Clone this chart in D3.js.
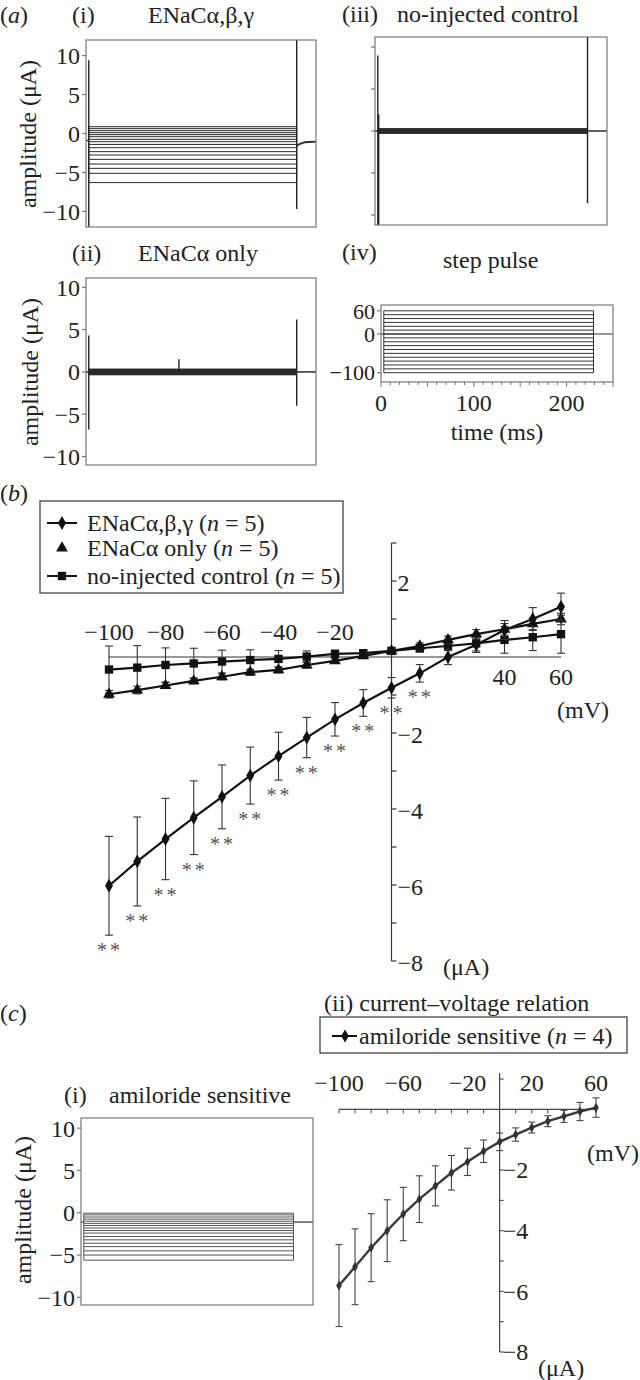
<!DOCTYPE html>
<html><head><meta charset="utf-8">
<script src="https://cdn.jsdelivr.net/npm/d3@7"></script>
<style>
body{margin:0;background:#fff;}
</style></head>
<body><svg id="fig" width="640" height="1380" font-family="'Liberation Serif', 'DejaVu Serif', serif"></svg>
<script>
// ---------- data ----------
const voltages = [-100,-90,-80,-70,-60,-50,-40,-30,-20,-10,0,10,20,30,40,50,60];
const enacABG    = [-6.02,-5.38,-4.79,-4.23,-3.68,-3.12,-2.61,-2.12,-1.64,-1.21,-0.81,-0.43,0.0,0.32,0.71,1.0,1.32];
const enacABGErr = [1.3,1.17,1.07,0.97,0.84,0.75,0.63,0.53,0.44,0.35,0.27,0.23,0.2,0.2,0.25,0.3,0.36];
const enacA      = [-0.98,-0.87,-0.75,-0.63,-0.52,-0.4,-0.34,-0.21,-0.1,0.03,0.16,0.29,0.45,0.6,0.73,0.87,1.0];
const enacAErr   = [0.1,0.1,0.08,0.08,0.08,0.08,0.08,0.08,0.07,0.07,0.07,0.08,0.1,0.12,0.15,0.15,0.15];
const control    = [-0.33,-0.28,-0.21,-0.17,-0.12,-0.08,-0.05,0.01,0.08,0.1,0.16,0.23,0.29,0.36,0.45,0.52,0.6];
const controlErr = [0.62,0.58,0.45,0.4,0.3,0.27,0.22,0.15,0.1,0.08,0.08,0.1,0.12,0.2,0.35,0.35,0.5];
const sigVoltages = [-100,-90,-80,-70,-60,-50,-40,-30,-20,-10,0,10];
const amiloride    = [-5.81,-5.19,-4.56,-4.0,-3.45,-2.96,-2.52,-2.09,-1.73,-1.38,-1.07,-0.83,-0.6,-0.39,-0.23,-0.07,0.06];
const amilorideErr = [1.35,1.25,1.12,1.02,0.88,0.77,0.66,0.57,0.45,0.37,0.29,0.22,0.18,0.18,0.2,0.3,0.32];

// raw traces (µA levels during the step, spikes, holding current)
const abgLevels = [0.87,0.62,0.36,0.1,-0.15,-0.41,-0.75,-1.05,-1.4,-1.82,-2.33,-2.76,-3.32,-3.92,-4.47,-5.11,-6.3];
const abgSpikes = [{t:3,hi:9.4,lo:-12},{t:229,hi:12,lo:-9.7}];
const abgTail   = [{t:229,v:-1.6},{t:232,v:-1.35},{t:238,v:-1.12},{t:250,v:-1.05}];
const abgHold   = -0.9;
const aOnlySpikes = [{t:3,hi:4.3,lo:-6.8},{t:101,hi:1.5,lo:0},{t:229,hi:6.2,lo:-4.0}];
const ctrlSpikes  = [{t:3,hi:9.0,lo:-11.2},{t:4,hi:2,lo:-11.2},{t:229,hi:11.2,lo:-8.6}];
const amilLevels = [-5.6,-5.0,-4.5,-4.0,-3.6,-3.2,-2.8,-2.4,-2.1,-1.8,-1.5,-1.25,-1.0,-0.75,-0.5,-0.25,-0.05];
const amilHold = -1.1;
const pulseStart = 3, pulseEnd = 229;
const ampTicks = [10,5,0,-5,-10];
const stepTicks = [60,0,-100];
const timeTicks = [0,100,200];
const timeMinor = d3.range(0,251,10);
const ivYTicksB = [-8,-7,-6,-5,-4,-3,-2,-1,1,2,3];
const ivYLabelsB = [2,-2,-4,-6,-8];
const ivXLabelsBTop = [-100,-80,-60,-40,-20];
const ivXLabelsBBottom = [40,60];
const ivYTicksC = [-8,-7,-6,-5,-4,-3,-2,-1,1];
const ivYLabelsC = [-2,-4,-6,-8];
const ivXLabelsC = [-100,-60,-20,20,60];

const svg = d3.select("#fig");
const FONT = "'Liberation Serif', 'DejaVu Serif', serif";
const FS = 24;
const minus = s => String(s).replace("-", "\u2212");

function text(x, y, str, opts={}) {
  const t = svg.append("text").attr("x", x).attr("y", y).attr("dy", "0.35em")
    .attr("font-family", FONT).attr("fill", opts.fill || "#222")
    .attr("font-size", opts.fs || FS).attr("text-anchor", opts.anchor || "start");
  if (opts.rotate) t.attr("transform", `rotate(-90,${x},${y})`);
  if (opts.ls) t.attr("letter-spacing", opts.ls);
  return t.text(str);
}
function richText(x, y, parts, opts={}) {
  const t = svg.append("text").attr("x", x).attr("y", y).attr("dy", "0.35em")
    .attr("font-family", FONT).attr("fill", "#222")
    .attr("font-size", opts.fs || FS).attr("text-anchor", opts.anchor || "start");
  parts.forEach(p => {
    const s = t.append("tspan").text(p.t);
    if (p.i) s.attr("font-style", "italic");
  });
  return t;
}

// ---------- trace panels ----------
function tracePanel(o) {
  const x = d3.scaleLinear().domain([0,250]).range([o.x0, o.x1]);
  const y = d3.scaleLinear().domain(o.yDom).range([o.y1, o.y0]);
  const g = svg.append("g");
  const col = o.col || "#2a2a2a";
  const hold = o.hold;
  g.append("line").attr("x1", x(0)).attr("x2", x(pulseStart)).attr("y1", y(hold)).attr("y2", y(hold))
    .attr("stroke", col).attr("stroke-width", 1.5);
  if (o.tail) {
    g.append("path").datum(o.tail).attr("fill","none").attr("stroke",col).attr("stroke-width",1.8)
      .attr("d", d3.line().x(d=>x(d.t)).y(d=>y(d.v)));
  } else {
    g.append("line").attr("x1", x(pulseEnd)).attr("x2", x(250)).attr("y1", y(hold)).attr("y2", y(hold))
      .attr("stroke", col).attr("stroke-width", 1.5);
  }
  if (o.levels) {
    g.selectAll(null).data(o.levels).enter().append("line")
      .attr("x1", x(pulseStart)).attr("x2", x(pulseEnd))
      .attr("y1", d=>y(d)).attr("y2", d=>y(d))
      .attr("stroke", col).attr("stroke-width", 1);
    const ext = d3.extent(o.levels);
    g.append("line").attr("x1", x(pulseStart)).attr("x2", x(pulseStart)).attr("y1", y(ext[0])).attr("y2", y(ext[1]))
      .attr("stroke", col).attr("stroke-width", 1);
    g.append("line").attr("x1", x(pulseEnd)).attr("x2", x(pulseEnd)).attr("y1", y(ext[0])).attr("y2", y(ext[1]))
      .attr("stroke", col).attr("stroke-width", 1);
  }
  if (o.band) {
    g.append("rect").attr("x", x(pulseStart)).attr("width", x(pulseEnd)-x(pulseStart))
      .attr("y", y(o.band)).attr("height", y(-o.band)-y(o.band)).attr("fill", "#2a2a2a");
  }
  if (o.spikes) {
    g.selectAll(null).data(o.spikes).enter().append("line")
      .attr("x1", d=>x(d.t)).attr("x2", d=>x(d.t)).attr("y1", d=>y(d.hi)).attr("y2", d=>y(d.lo))
      .attr("stroke", "#222").attr("stroke-width", 1.4);
  }
  svg.append("rect").attr("x", o.x0).attr("y", o.y0).attr("width", o.x1-o.x0).attr("height", o.y1-o.y0)
    .attr("fill","none").attr("stroke","#777").attr("stroke-width",1.2);
  (o.yTicks||[]).forEach(v => {
    svg.append("line").attr("x1", o.x0-4).attr("x2", o.x0).attr("y1", y(v)).attr("y2", y(v))
      .attr("stroke","#777").attr("stroke-width",1.2);
    if (o.yLabels) text(o.x0-6, y(v), minus(v), {anchor:"end"});
  });
  return {x, y};
}

tracePanel({x0:86,x1:316,y0:40,y1:227,yDom:[-12,12],levels:abgLevels,spikes:abgSpikes,hold:abgHold,tail:abgTail,yTicks:ampTicks,yLabels:true});
tracePanel({x0:375,x1:607,y0:37,y1:225,yDom:[-11.2,11.2],band:0.35,spikes:ctrlSpikes,hold:0,yTicks:ampTicks,yLabels:false});
tracePanel({x0:86,x1:316,y0:278,y1:465,yDom:[-11,11.1],band:0.4,spikes:aOnlySpikes,hold:0,yTicks:ampTicks,yLabels:true});
tracePanel({x0:81,x1:313,y0:1118,y1:1305,yDom:[-10.9,11.2],levels:amilLevels,hold:amilHold,yTicks:ampTicks,yLabels:true,col:"#555"});

// (a)(iv) step pulse
(function(){
  const x0=381,x1=613,y0=305,y1=382;
  const x = d3.scaleLinear().domain([0,250]).range([x0,x1]);
  const y = d3.scaleLinear().domain([-124,75]).range([y1,y0]);
  svg.append("line").attr("x1",x(0)).attr("x2",x(250)).attr("y1",y(0)).attr("y2",y(0)).attr("stroke","#333").attr("stroke-width",1.2);
  svg.selectAll(null).data(voltages).enter().append("line")
    .attr("x1",x(pulseStart)).attr("x2",x(pulseEnd)).attr("y1",d=>y(d)).attr("y2",d=>y(d))
    .attr("stroke","#333").attr("stroke-width",1);
  [pulseStart,pulseEnd].forEach(t=>svg.append("line").attr("x1",x(t)).attr("x2",x(t))
    .attr("y1",y(-100)).attr("y2",y(60)).attr("stroke","#333").attr("stroke-width",1));
  svg.append("rect").attr("x",x0).attr("y",y0).attr("width",x1-x0).attr("height",y1-y0)
    .attr("fill","none").attr("stroke","#777").attr("stroke-width",1.2);
  stepTicks.forEach(v=>{
    svg.append("line").attr("x1",x0-4).attr("x2",x0).attr("y1",y(v)).attr("y2",y(v)).attr("stroke","#777").attr("stroke-width",1.2);
    text(x0-6,y(v),minus(v),{anchor:"end",fs:22});
  });
  timeMinor.forEach(t=>svg.append("line").attr("x1",x(t)).attr("x2",x(t)).attr("y1",y1).attr("y2",y1+(t%50===0?5:3))
    .attr("stroke","#777").attr("stroke-width",1));
  timeTicks.forEach(t=>text(x(t),403,t,{anchor:"middle"}));
  text(497,432,"time (ms)",{anchor:"middle"});
})();

richText(0,15,[{t:"("},{t:"a",i:true},{t:")"}]);
text(72,15,"(i)");
text(201,15,"ENaCα,β,γ",{anchor:"middle"});
text(342,14,"(iii)");
text(397,14,"no-injected control");
text(72,253,"(ii)");
text(138,253,"ENaCα only");
text(342,252,"(iv)");
text(443,260,"step pulse");
text(28,134,"amplitude (μA)",{anchor:"middle",rotate:true});
text(30,372,"amplitude (μA)",{anchor:"middle",rotate:true});
text(23,1210,"amplitude (μA)",{anchor:"middle",rotate:true});

// ---------- (b) I-V ----------
(function(){
  const x = d3.scaleLinear().domain([-100,60]).range([109,561]);
  const y = d3.scaleLinear().domain([-8,3]).range([961,543]);
  const ax = x(0);
  svg.append("line").attr("x1",x(-100)).attr("x2",x(60)).attr("y1",y(0)).attr("y2",y(0)).attr("stroke","#333").attr("stroke-width",1.2);
  svg.append("line").attr("x1",ax).attr("x2",ax).attr("y1",y(3)).attr("y2",y(-8)).attr("stroke","#333").attr("stroke-width",1.2);
  ivYTicksB.forEach(v=>svg.append("line").attr("x1",ax).attr("x2",ax+5).attr("y1",y(v)).attr("y2",y(v)).attr("stroke","#333").attr("stroke-width",1.2));
  ivYLabelsB.forEach(v=>text(ax+6,y(v)+2,minus(v)));
  ivXLabelsBTop.forEach(v=>text(x(v),632,minus(v),{anchor:"middle"}));
  ivXLabelsBBottom.forEach(v=>text(x(v),677,v,{anchor:"middle"}));
  text(557,710,"(mV)");
  text(443,967,"(μA)");

  const series = [
    {vals:control, err:controlErr, sym:d3.symbolSquare, size:70},
    {vals:enacA, err:enacAErr, sym:d3.symbolTriangle, size:60},
    {vals:enacABG, err:enacABGErr, sym:d3.symbolDiamond, size:55}
  ];
  series.forEach(s=>{
    const pts = voltages.map((v,i)=>({v, m:s.vals[i], e:s.err[i]}));
    const g = svg.append("g");
    pts.forEach(p=>{
      g.append("line").attr("x1",x(p.v)).attr("x2",x(p.v)).attr("y1",y(p.m+p.e)).attr("y2",y(p.m-p.e)).attr("stroke","#333").attr("stroke-width",1.1);
      [p.m+p.e,p.m-p.e].forEach(c=>g.append("line").attr("x1",x(p.v)-4).attr("x2",x(p.v)+4).attr("y1",y(c)).attr("y2",y(c)).attr("stroke","#333").attr("stroke-width",1.1));
    });
    g.append("path").datum(pts).attr("fill","none").attr("stroke","#111").attr("stroke-width",2.2)
      .attr("d",d3.line().x(d=>x(d.v)).y(d=>y(d.m)));
    g.selectAll(null).data(pts).enter().append("path")
      .attr("transform",d=>`translate(${x(d.v)},${y(d.m)})`)
      .attr("d",d3.symbol().type(s.sym).size(s.size)).attr("fill","#111");
  });
  sigVoltages.forEach(v=>{
    const i = voltages.indexOf(v);
    const yb = y(enacABG[i]-enacABGErr[i]) + 15;
    text(x(v)+1, yb, "**", {anchor:"middle", fs:20, fill:"#555", ls:3});
  });

  svg.append("rect").attr("x",40).attr("y",501).attr("width",303).attr("height",92).attr("fill","#fff").attr("stroke","#333").attr("stroke-width",1.2);
  const leg = [
    {y:523, sym:d3.symbolDiamond, size:55, line:true, parts:[{t:"ENaCα,β,γ ("},{t:"n",i:true},{t:" = 5)"}]},
    {y:548, sym:d3.symbolTriangle, size:60, line:false, parts:[{t:"ENaCα only ("},{t:"n",i:true},{t:" = 5)"}]},
    {y:576, sym:d3.symbolSquare, size:70, line:true, parts:[{t:"no-injected control ("},{t:"n",i:true},{t:" = 5)"}]}
  ];
  leg.forEach(l=>{
    if (l.line) svg.append("line").attr("x1",47).attr("x2",77).attr("y1",l.y).attr("y2",l.y).attr("stroke","#111").attr("stroke-width",2);
    svg.append("path").attr("transform",`translate(62,${l.y})`).attr("d",d3.symbol().type(l.sym).size(l.size)).attr("fill","#111");
    richText(87,l.y,l.parts);
  });
  richText(0,493,[{t:"("},{t:"b",i:true},{t:")"}]);
})();

// ---------- (c)(ii) I-V ----------
(function(){
  const x = d3.scaleLinear().domain([-100,60]).range([339,596]);
  const y = d3.scaleLinear().domain([-8,1.2]).range([1352,1073]);
  const ax = x(0);
  svg.append("line").attr("x1",x(-100)).attr("x2",x(60)).attr("y1",y(0)).attr("y2",y(0)).attr("stroke","#444").attr("stroke-width",1.2);
  voltages.forEach(v=>{ if (v!==0) svg.append("line").attr("x1",x(v)).attr("x2",x(v)).attr("y1",y(0)).attr("y2",y(0)+4).attr("stroke","#444").attr("stroke-width",1); });
  svg.append("line").attr("x1",ax).attr("x2",ax).attr("y1",y(1.2)).attr("y2",y(-8)).attr("stroke","#444").attr("stroke-width",1.2);
  ivYTicksC.forEach(v=>svg.append("line").attr("x1",ax).attr("x2",ax+4).attr("y1",y(v)).attr("y2",y(v)).attr("stroke","#444").attr("stroke-width",1.1));
  ivYLabelsC.forEach(v=>text(ax+3,y(v),minus(v)));
  ivXLabelsC.forEach(v=>text(x(v),1083,minus(v),{anchor:"middle"}));
  text(587,1153,"(mV)");
  text(538,1368,"(μA)");
  const pts = voltages.map((v,i)=>({v, m:amiloride[i], e:amilorideErr[i]}));
  pts.forEach(p=>{
    svg.append("line").attr("x1",x(p.v)).attr("x2",x(p.v)).attr("y1",y(p.m+p.e)).attr("y2",y(p.m-p.e)).attr("stroke","#444").attr("stroke-width",1.1);
    [p.m+p.e,p.m-p.e].forEach(c=>svg.append("line").attr("x1",x(p.v)-3.5).attr("x2",x(p.v)+3.5).attr("y1",y(c)).attr("y2",y(c)).attr("stroke","#444").attr("stroke-width",1.1));
  });
  svg.append("path").datum(pts).attr("fill","none").attr("stroke","#3a3a3a").attr("stroke-width",2.4)
    .attr("d",d3.line().x(d=>x(d.v)).y(d=>y(d.m)));
  svg.selectAll(null).data(pts).enter().append("path")
    .attr("transform",d=>`translate(${x(d.v)},${y(d.m)})`)
    .attr("d",d3.symbol().type(d3.symbolDiamond).size(28)).attr("fill","#333");
  svg.append("rect").attr("x",320).attr("y",1017).attr("width",307).attr("height",36).attr("fill","#fff").attr("stroke","#333").attr("stroke-width",1.2);
  svg.append("line").attr("x1",332).attr("x2",357).attr("y1",1036).attr("y2",1036).attr("stroke","#111").attr("stroke-width",2);
  svg.append("path").attr("transform","translate(345,1036)").attr("d",d3.symbol().type(d3.symbolDiamond).size(50)).attr("fill","#111");
  richText(359,1036,[{t:"amiloride sensitive ("},{t:"n",i:true},{t:" = 4)"}]);
  text(324,1003,"(ii) current–voltage relation");
  richText(0,1013,[{t:"("},{t:"c",i:true},{t:")"}]);
  text(64,1095,"(i)");
  text(109,1095,"amiloride sensitive");
})();
</script></body></html>
